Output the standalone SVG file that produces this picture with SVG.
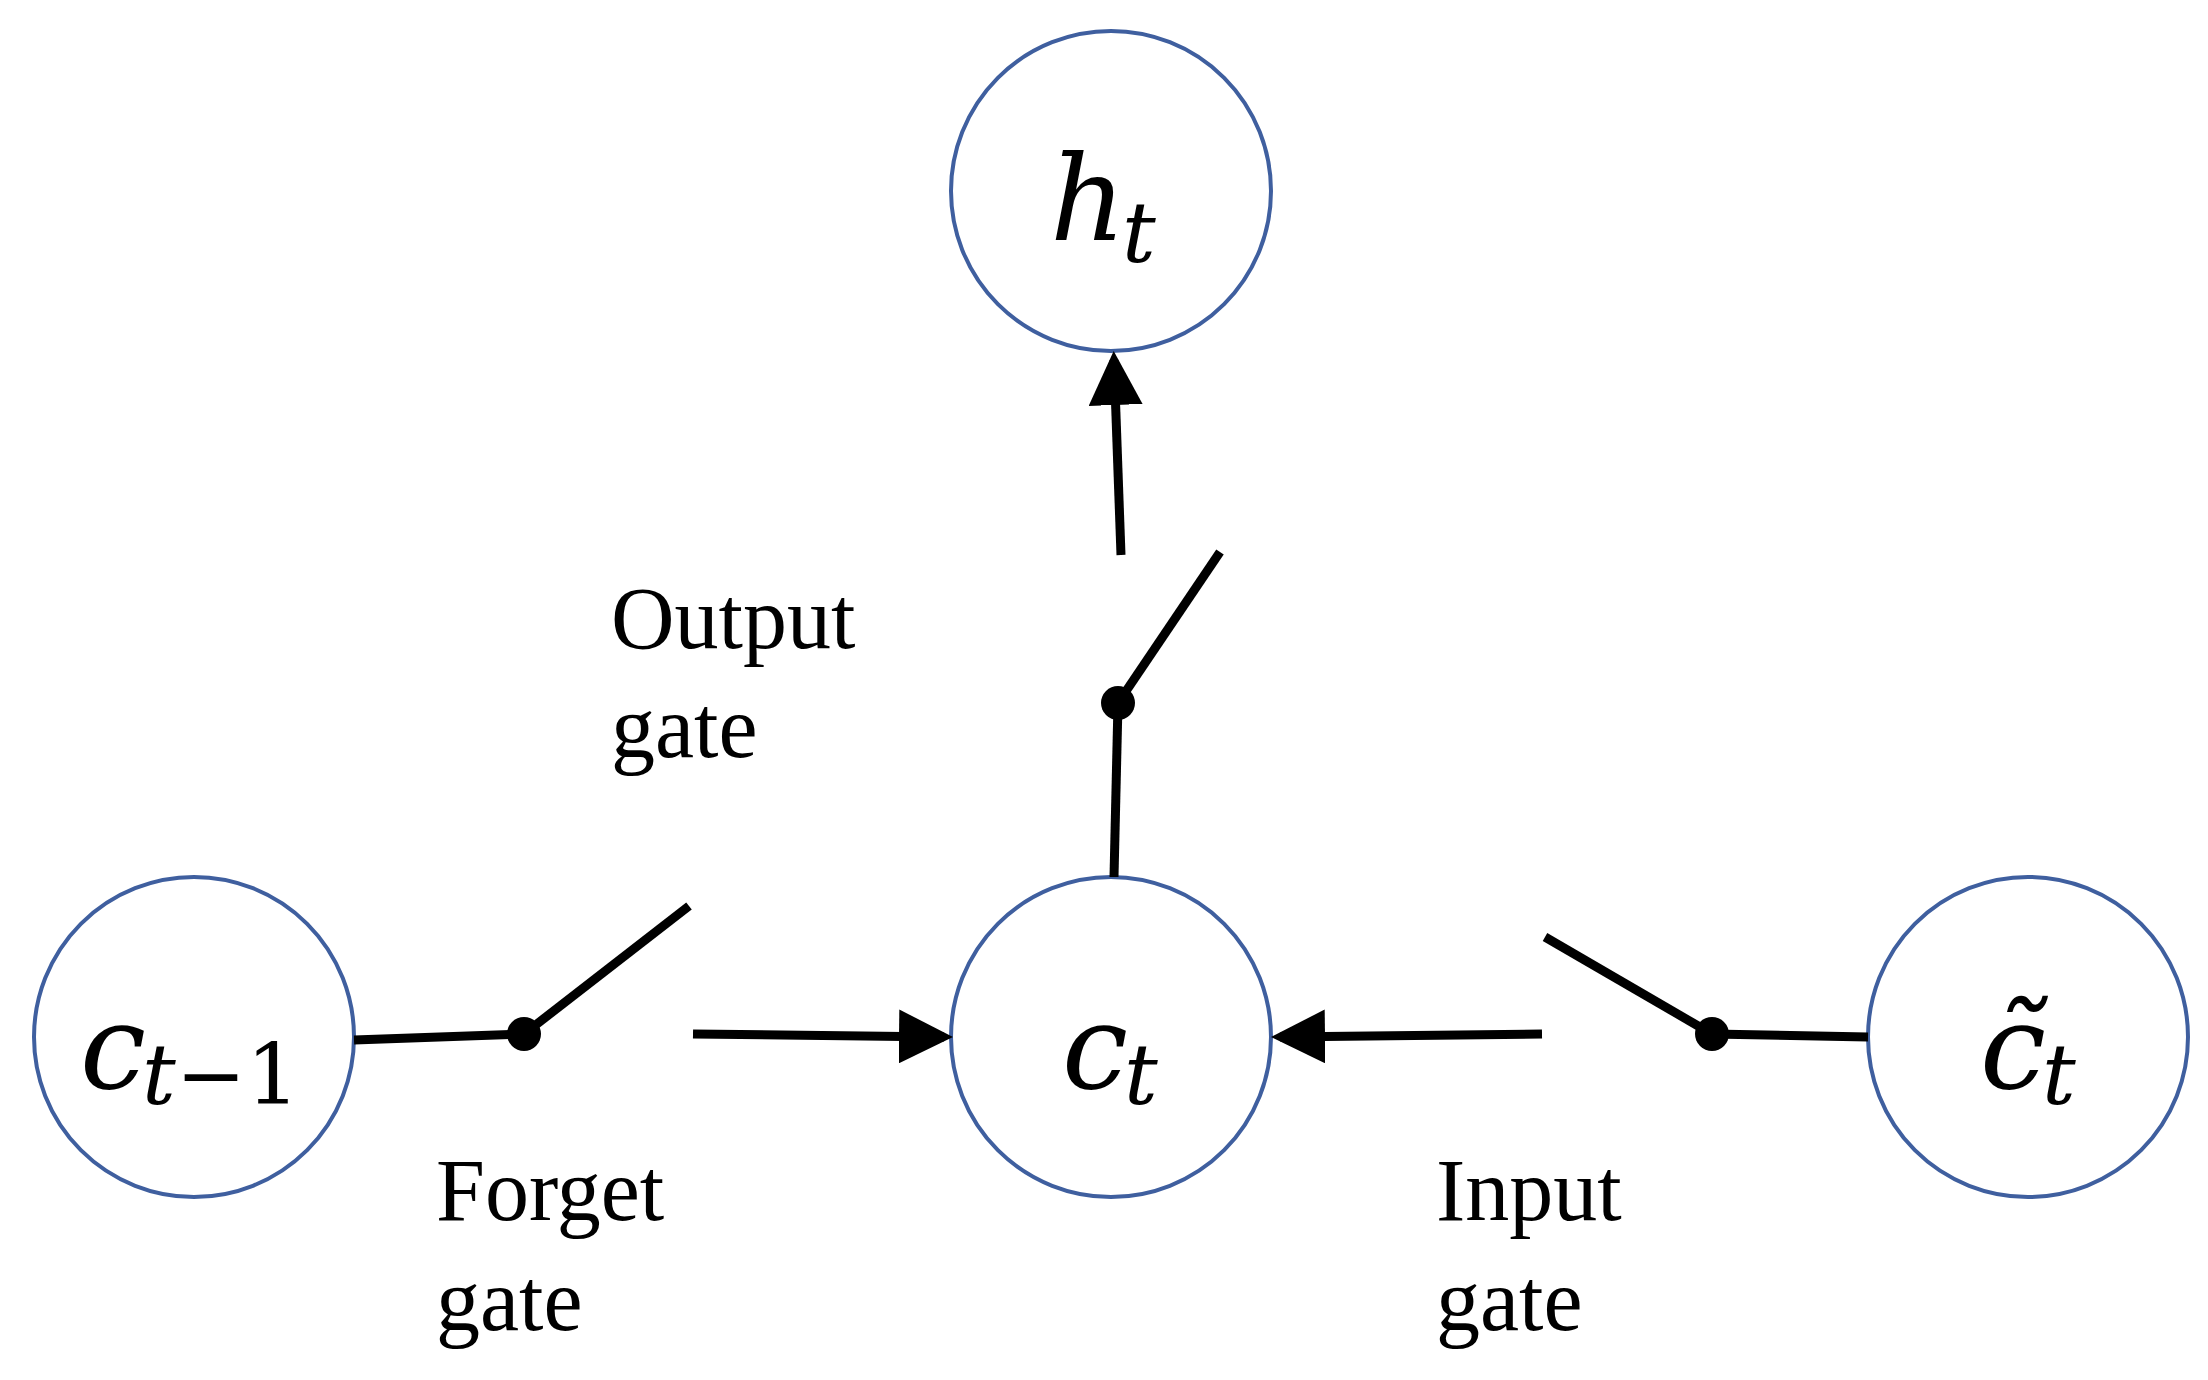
<svg xmlns="http://www.w3.org/2000/svg" width="2208" height="1380" viewBox="0 0 2208 1380">
<style>
.node{fill:#fff;stroke:#3f5f9f;stroke-width:4}
.ln{stroke:#000;stroke-width:9;fill:none;stroke-linecap:butt}
.m{font-family:"DejaVu Serif",serif;font-style:italic;font-size:118px;fill:#000}
.s{font-family:"DejaVu Serif",serif;font-style:italic;font-size:84px;fill:#000}
.lb{font-family:"Liberation Serif",serif;font-size:88px;fill:#000}
</style>
<defs>
<marker id="ah" markerWidth="6" markerHeight="6" refX="5" refY="3" orient="auto" markerUnits="strokeWidth"><path d="M0,0 L6,3 L0,6 z" fill="#000"/></marker>
</defs>
<g id="h_t"><circle class="node" cx="1111" cy="191" r="160"/><text class="m" x="1050" y="240">h</text><text class="s" x="1122" y="262">t</text></g>
<g id="c_t-1"><circle class="node" cx="194" cy="1037" r="160"/><text class="m" x="80" y="1088">c</text><text class="s" x="142" y="1104">t<tspan font-style="normal">−1</tspan></text></g>
<g id="c_t"><circle class="node" cx="1111" cy="1037" r="160"/><text class="m" x="1062" y="1088">c</text><text class="s" x="1124" y="1104">t</text></g>
<g id="c_tilde"><circle class="node" cx="2028" cy="1037" r="160"/><text class="m" x="1980" y="1088">c̃</text><text class="s" x="2042" y="1104">t</text></g>
<g id="connectors">
<line class="ln" x1="354" y1="1040" x2="524" y2="1034"/>
<line class="ln" x1="524" y1="1034" x2="689" y2="906"/>
<circle cx="524" cy="1034" r="17"/>
<line class="ln" x1="693" y1="1034" x2="944" y2="1037" marker-end="url(#ah)"/>
<line class="ln" x1="1868" y1="1037" x2="1712" y2="1034"/>
<line class="ln" x1="1712" y1="1034" x2="1545" y2="937"/>
<circle cx="1712" cy="1034" r="17"/>
<line class="ln" x1="1542" y1="1034" x2="1280" y2="1037" marker-end="url(#ah)"/>
<line class="ln" x1="1114" y1="877" x2="1118" y2="703"/>
<line class="ln" x1="1118" y1="703" x2="1220" y2="552"/>
<circle cx="1118" cy="703" r="17"/>
<line class="ln" x1="1121" y1="555" x2="1114" y2="360" marker-end="url(#ah)"/>
</g>
<g id="labels">
<text class="lb" x="611" y="648">Output</text><text class="lb" x="611" y="757">gate</text>
<text class="lb" x="436" y="1220">Forget</text><text class="lb" x="436" y="1330">gate</text>
<text class="lb" x="1436" y="1220">Input</text><text class="lb" x="1436" y="1330">gate</text>
</g>
</svg>
